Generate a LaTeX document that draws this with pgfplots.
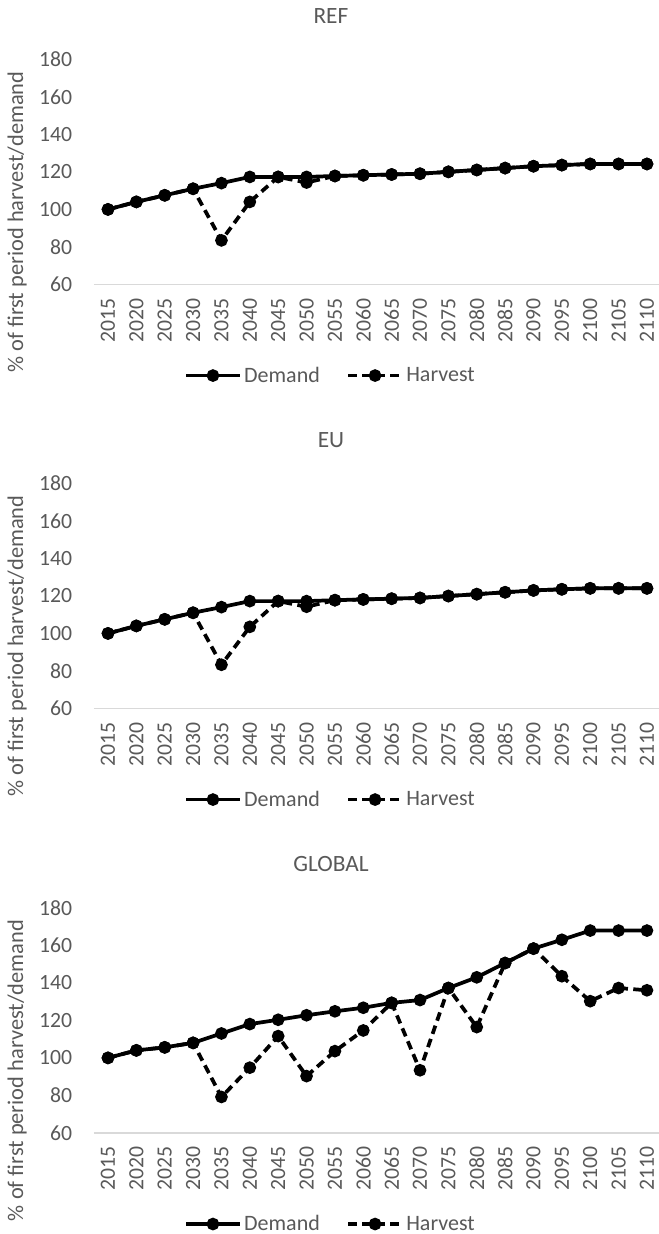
\documentclass[border=0pt]{standalone}
\usepackage{pgfplots}
\usepackage{pgfplotstable}
\pgfplotsset{compat=1.18}
\usepackage{fontspec}
\setmainfont{Carlito}
\definecolor{txt}{HTML}{595959}
\definecolor{axl}{HTML}{D9D9D9}

\pgfplotstableread{
i D H
0 100 100
1 104 104
2 107.5 107.5
3 111 111
4 114 83.5
5 117.3 104
6 117.3 117.3
7 117.3 114.3
8 117.8 117.8
9 118.2 118.2
10 118.6 118.6
11 119 119
12 120 120
13 121 121
14 122 122
15 123 123
16 123.6 123.6
17 124.2 124.2
18 124.2 124.2
19 124.2 124.2
}\refdata

\pgfplotstableread{
i D H
0 100 100
1 104 104
2 107.5 107.5
3 111 111
4 114 83.3
5 117.2 103.5
6 117.2 117.2
7 117.2 114.2
8 117.7 117.7
9 118.1 118.1
10 118.5 118.5
11 118.9 118.9
12 119.9 119.9
13 120.9 120.9
14 121.9 121.9
15 122.9 122.9
16 123.5 123.5
17 124 124
18 124 124
19 124 124
}\eudata

\pgfplotstableread{
i D H
0 100 100
1 104 104
2 105.6 105.6
3 108 108
4 113 79.2
5 118 94.8
6 120.3 111.6
7 122.7 90.3
8 124.8 103.6
9 126.7 114.6
10 129.3 129.3
11 130.8 93.4
12 137.2 137.2
13 142.9 116.4
14 150.5 150.5
15 158.2 158.2
16 162.9 143.5
17 167.8 130.2
18 167.8 137.2
19 167.8 136
}\globaldata

\pgfplotsset{
  panel/.style={
    scale only axis,
    width=425.5pt, height=169pt,
    anchor=south west,
    xmin=-0.5, xmax=19.5,
    ymin=60, ymax=180,
    ytick={60,80,...,180},
    xtick={0,...,19},
    xticklabels={2015,2020,2025,2030,2035,2040,2045,2050,2055,2060,2065,2070,2075,2080,2085,2090,2095,2100,2105,2110},
    axis lines=left,
    axis line style={-},
    y axis line style={draw=none},
    x axis line style={draw=axl, line width=1pt},
    major tick length=0pt,
    clip=false,
    font=\fontsize{16.3}{19}\selectfont,
    every tick label/.append style={text=txt, font=\fontsize{16.3}{19}\selectfont},
    /pgf/number format/assume math mode=true,
    xticklabel style={rotate=90, anchor=east, inner sep=0pt},
    xticklabel shift=10pt,
    yticklabel style={anchor=east, inner sep=0pt},
    yticklabel shift=16pt,
    title style={at={(axis description cs:0.418,1)}, anchor=center, yshift=26.6pt, text=txt, font=\fontsize{17.5}{20}\selectfont},
    ylabel={\% of first period harvest/demand},
    ylabel style={at={(axis description cs:-0.135,0.277)}, anchor=center, rotate=0, text=txt, font=\fontsize{16.8}{19}\selectfont},
    legend columns=2,
    legend style={at={(axis description cs:0.418,-0.404)}, anchor=center, draw=none, fill=none,
      text=txt, font=\fontsize{16.5}{19}\selectfont, inner sep=0pt,
      /tikz/every even column/.append style={column sep=18pt}},
    legend cell align=left,
    legend image code/.code={\draw[mark repeat=2,mark phase=2,#1] plot coordinates {(0pt,0pt)(20pt,0pt)(40pt,0pt)};},
  },
  dem/.style={black, line width=2.8pt, mark=*, mark size=3.3pt},
  har/.style={black, line width=2.8pt, dash pattern=on 6.5pt off 4pt, mark=*, mark size=3.3pt, mark options={solid}},
}

\begin{document}
\begin{tikzpicture}
\useasboundingbox (0,0) rectangle (494.25pt,925.5pt);

\begin{axis}[panel, at={(70.35pt,712.1pt)}, title={REF}]
\addplot[dem] table[x=i,y=D] {\refdata};
\addplot[har] table[x=i,y=H] {\refdata};
\legend{Demand,Harvest}
\end{axis}

\begin{axis}[panel, at={(70.35pt,394.1pt)}, title={EU}]
\addplot[dem] table[x=i,y=D] {\eudata};
\addplot[har] table[x=i,y=H] {\eudata};
\legend{Demand,Harvest}
\end{axis}

\begin{axis}[panel, at={(70.35pt,75.75pt)}, title={GLOBAL}]
\addplot[dem] table[x=i,y=D] {\globaldata};
\addplot[har] table[x=i,y=H] {\globaldata};
\legend{Demand,Harvest}
\end{axis}
\end{tikzpicture}
\end{document}
